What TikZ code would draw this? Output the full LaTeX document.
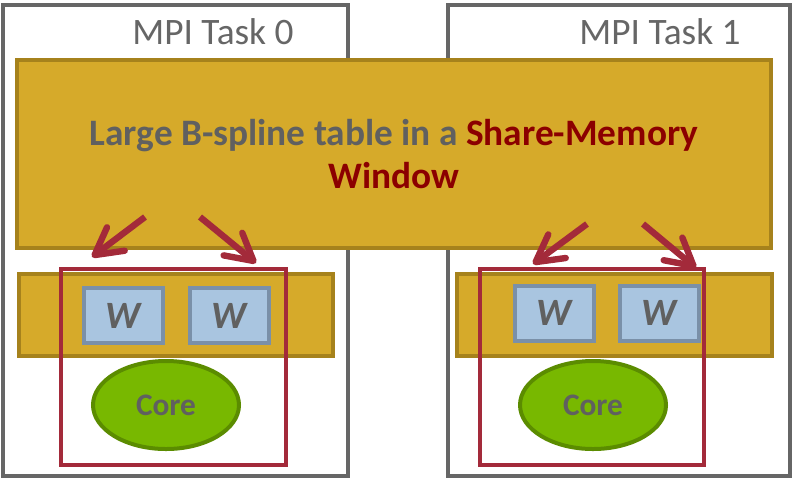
\documentclass[tikz,border=0pt]{standalone}
\usepackage{fontspec}
\setmainfont{Carlito}
\usetikzlibrary{arrows.meta,shapes.geometric}
\definecolor{taskgray}{HTML}{666666}
\definecolor{gold}{HTML}{D6AA2A}
\definecolor{golddark}{HTML}{A6821C}
\definecolor{wfill}{HTML}{A9C5E0}
\definecolor{wdraw}{HTML}{7A90A8}
\definecolor{corefill}{HTML}{78B800}
\definecolor{coredraw}{HTML}{5B8C00}
\definecolor{frame}{HTML}{A32A3A}
\definecolor{txtgray}{HTML}{606060}
\definecolor{txtred}{HTML}{8B0000}

\begin{document}
\begin{tikzpicture}[x=0.75pt, y=-0.75pt,
    task/.style={draw=taskgray, fill=white, line width=3pt, inner sep=0pt,
                 minimum height=353.25pt},
    title/.style={text=taskgray, font=\fontsize{28}{33}\selectfont, inner sep=0pt},
    goldbox/.style={draw=golddark, fill=gold, line width=3pt, inner sep=0pt},
    wbox/.style={draw=wdraw, fill=wfill, line width=3pt, inner sep=0pt,
                 minimum width=59.25pt, minimum height=41.25pt, text=txtgray,
                 font=\fontsize{29}{33}\selectfont\bfseries\itshape},
    core/.style={ellipse, draw=coredraw, fill=corefill, line width=3pt, inner sep=0pt,
                 minimum width=109.5pt, minimum height=66pt, text=txtgray,
                 font=\fontsize{23.5}{28}\selectfont\bfseries},
    frm/.style={draw=frame, line width=3.2pt, inner sep=0pt, minimum height=147pt},
    arr/.style={-{Straight Barb[round, length=20pt, width=22pt]}, line width=4.8pt, frame}]
  \useasboundingbox (0,0) rectangle (798,483);
  % the two tasks
  \node[task, minimum width=258.75pt] (task0) at (175.5,240.5) {};
  \node[task, minimum width=256.5pt] (task1) at (619,240.5) {};
  \node[title] (title0) at (213,32) {MPI Task 0};
  \node[title] (title1) at (660,32) {MPI Task 1};
  % shared window
  \node[goldbox, minimum width=565.5pt, minimum height=141pt, align=center,
        text=txtgray, font=\fontsize{28}{32.5}\selectfont\bfseries] (window) at (394,154)
    {Large B-spline table in a \textcolor{txtred}{Share-Memory}\\\textcolor{txtred}{Window}};
  % per task strips
  \node[goldbox, minimum width=235.5pt, minimum height=61.5pt] (strip0) at (176,315) {};
  \node[goldbox, minimum width=236.25pt, minimum height=61.5pt] (strip1) at (614.5,315) {};
  \node[wbox] (w00) at (123.5,315.5) {W};
  \node[wbox] (w01) at (229,315.5) {W};
  \node[wbox] (w10) at (554.5,313) {W};
  \node[wbox] (w11) at (659.5,313) {W};
  \node[core] (core0) at (166,405) {Core};
  \node[core] (core1) at (593,405) {Core};
  \node[frm, minimum width=168.75pt] (frame0) at (173.5,367) {};
  \node[frm, minimum width=168pt] (frame1) at (592,367) {};
  % arrows out of the window
  \coordinate (a00) at (145,217); \coordinate (b00) at (92,257);
  \coordinate (a01) at (200,217); \coordinate (b01) at (256,263);
  \coordinate (a10) at (587,224); \coordinate (b10) at (533,264);
  \coordinate (a11) at (643,224); \coordinate (b11) at (696,268);
  \draw[arr] (a00) -- (b00);
  \draw[arr] (a01) -- (b01);
  \draw[arr] (a10) -- (b10);
  \draw[arr] (a11) -- (b11);
\end{tikzpicture}
\end{document}
